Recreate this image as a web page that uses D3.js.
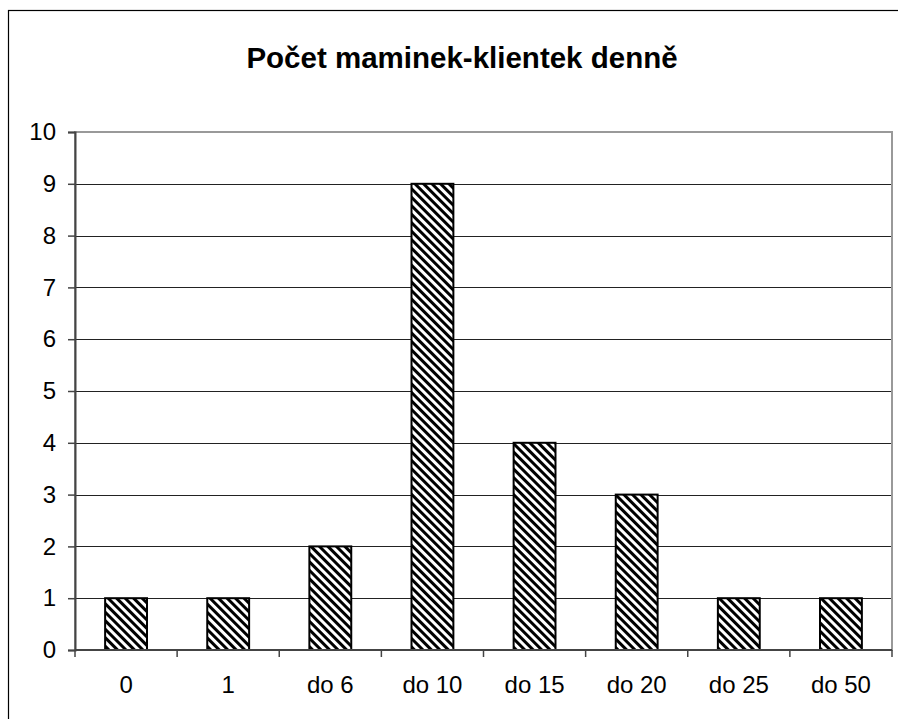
<!DOCTYPE html>
<html>
<head>
<meta charset="utf-8">
<script src="https://cdn.jsdelivr.net/npm/d3@7"></script>
<style>
  body { margin: 0; background: #fff; }
  svg { display: block; font-family: "Liberation Sans", Arial, sans-serif; }
</style>
</head>
<body>
<script>
const categories = ['0', '1', 'do 6', 'do 10', 'do 15', 'do 20', 'do 25', 'do 50'];
const counts = [1, 1, 2, 9, 4, 3, 1, 1];
const yTicks = [0, 1, 2, 3, 4, 5, 6, 7, 8, 9, 10];
const title = 'Počet maminek-klientek denně';

const W = 898, H = 719;
const plot = { left: 75, top: 132, right: 892, bottom: 650 };

const svg = d3.select('body').append('svg')
    .attr('width', W)
    .attr('height', H);

svg.append('rect').attr('width', W).attr('height', H).attr('fill', '#fff');

// hatch pattern for the bars
const defs = svg.append('defs');
const pat = defs.append('pattern')
    .attr('id', 'hatch')
    .attr('patternUnits', 'userSpaceOnUse')
    .attr('width', 6)
    .attr('height', 6)
    .attr('patternTransform', 'rotate(-45)');
pat.append('rect').attr('width', 6).attr('height', 6).attr('fill', '#fff');
pat.append('rect').attr('width', 3).attr('height', 6).attr('fill', '#000');

// outer chart border (runs off right / bottom)
svg.append('rect')
    .attr('x', 8.5).attr('y', 10.5)
    .attr('width', W).attr('height', H)
    .attr('fill', 'none')
    .attr('stroke', '#000')
    .attr('stroke-width', 1.2);

svg.append('text')
    .attr('x', 462)
    .attr('y', 68)
    .attr('text-anchor', 'middle')
    .style('font-size', '29.5px')
    .style('font-weight', 'bold')
    .text(title);

const x = d3.scaleBand()
    .domain(categories)
    .range([plot.left, plot.right])
    .paddingInner(0.59)
    .paddingOuter(0.295);

const xBand = d3.scaleBand()
    .domain(categories)
    .range([plot.left, plot.right]);

const y = d3.scaleLinear()
    .domain([0, 10])
    .range([plot.bottom, plot.top]);

// gridlines
svg.append('g')
    .selectAll('line')
    .data(yTicks.filter(d => d > 0 && d < 10))
    .join('line')
    .attr('x1', plot.left).attr('x2', plot.right)
    .attr('y1', d => Math.round(y(d)) + 0.5)
    .attr('y2', d => Math.round(y(d)) + 0.5)
    .attr('stroke', '#222')
    .attr('stroke-width', 1);

// plot area border (gray)
svg.append('rect')
    .attr('x', plot.left).attr('y', plot.top)
    .attr('width', plot.right - plot.left)
    .attr('height', plot.bottom - plot.top)
    .attr('fill', 'none')
    .attr('stroke', '#999')
    .attr('stroke-width', 2);

// bars
svg.append('g')
    .selectAll('rect')
    .data(counts)
    .join('rect')
    .attr('x', (d, i) => x(categories[i]))
    .attr('y', d => y(d))
    .attr('width', x.bandwidth())
    .attr('height', d => y(0) - y(d))
    .attr('fill', 'url(#hatch)')
    .attr('stroke', '#000')
    .attr('stroke-width', 2);

// y axis
const yAxis = d3.axisLeft(y)
    .tickValues(yTicks)
    .tickSize(7)
    .tickPadding(12)
    .tickFormat(d3.format('d'));

svg.append('g')
    .attr('transform', `translate(${plot.left},0)`)
    .call(yAxis)
    .call(g => g.select('.domain').attr('stroke', '#444').attr('stroke-width', 2))
    .call(g => g.selectAll('.tick line').attr('stroke', '#444').attr('stroke-width', 1.5))
    .call(g => g.selectAll('.tick text')
        .style('font-size', '24px')
        .style('font-family', '"Liberation Sans", Arial, sans-serif')
        .attr('fill', '#000'));

// x axis: labels centered in band, ticks at band boundaries
const xAxisG = svg.append('g')
    .attr('transform', `translate(0,${plot.bottom})`);

xAxisG.append('line')
    .attr('x1', plot.left).attr('x2', plot.right)
    .attr('stroke', '#444').attr('stroke-width', 2);

xAxisG.selectAll('line.tk')
    .data(categories.concat(['end']))
    .join('line')
    .attr('class', 'tk')
    .attr('x1', (d, i) => i < categories.length ? xBand(d) : plot.right)
    .attr('x2', (d, i) => i < categories.length ? xBand(d) : plot.right)
    .attr('y1', 0).attr('y2', 7)
    .attr('stroke', '#444').attr('stroke-width', 1.5);

xAxisG.selectAll('text')
    .data(categories)
    .join('text')
    .attr('x', d => xBand(d) + xBand.bandwidth() / 2)
    .attr('y', 43)
    .attr('text-anchor', 'middle')
    .style('font-size', '24px')
    .text(d => d);
</script>
</body>
</html>
